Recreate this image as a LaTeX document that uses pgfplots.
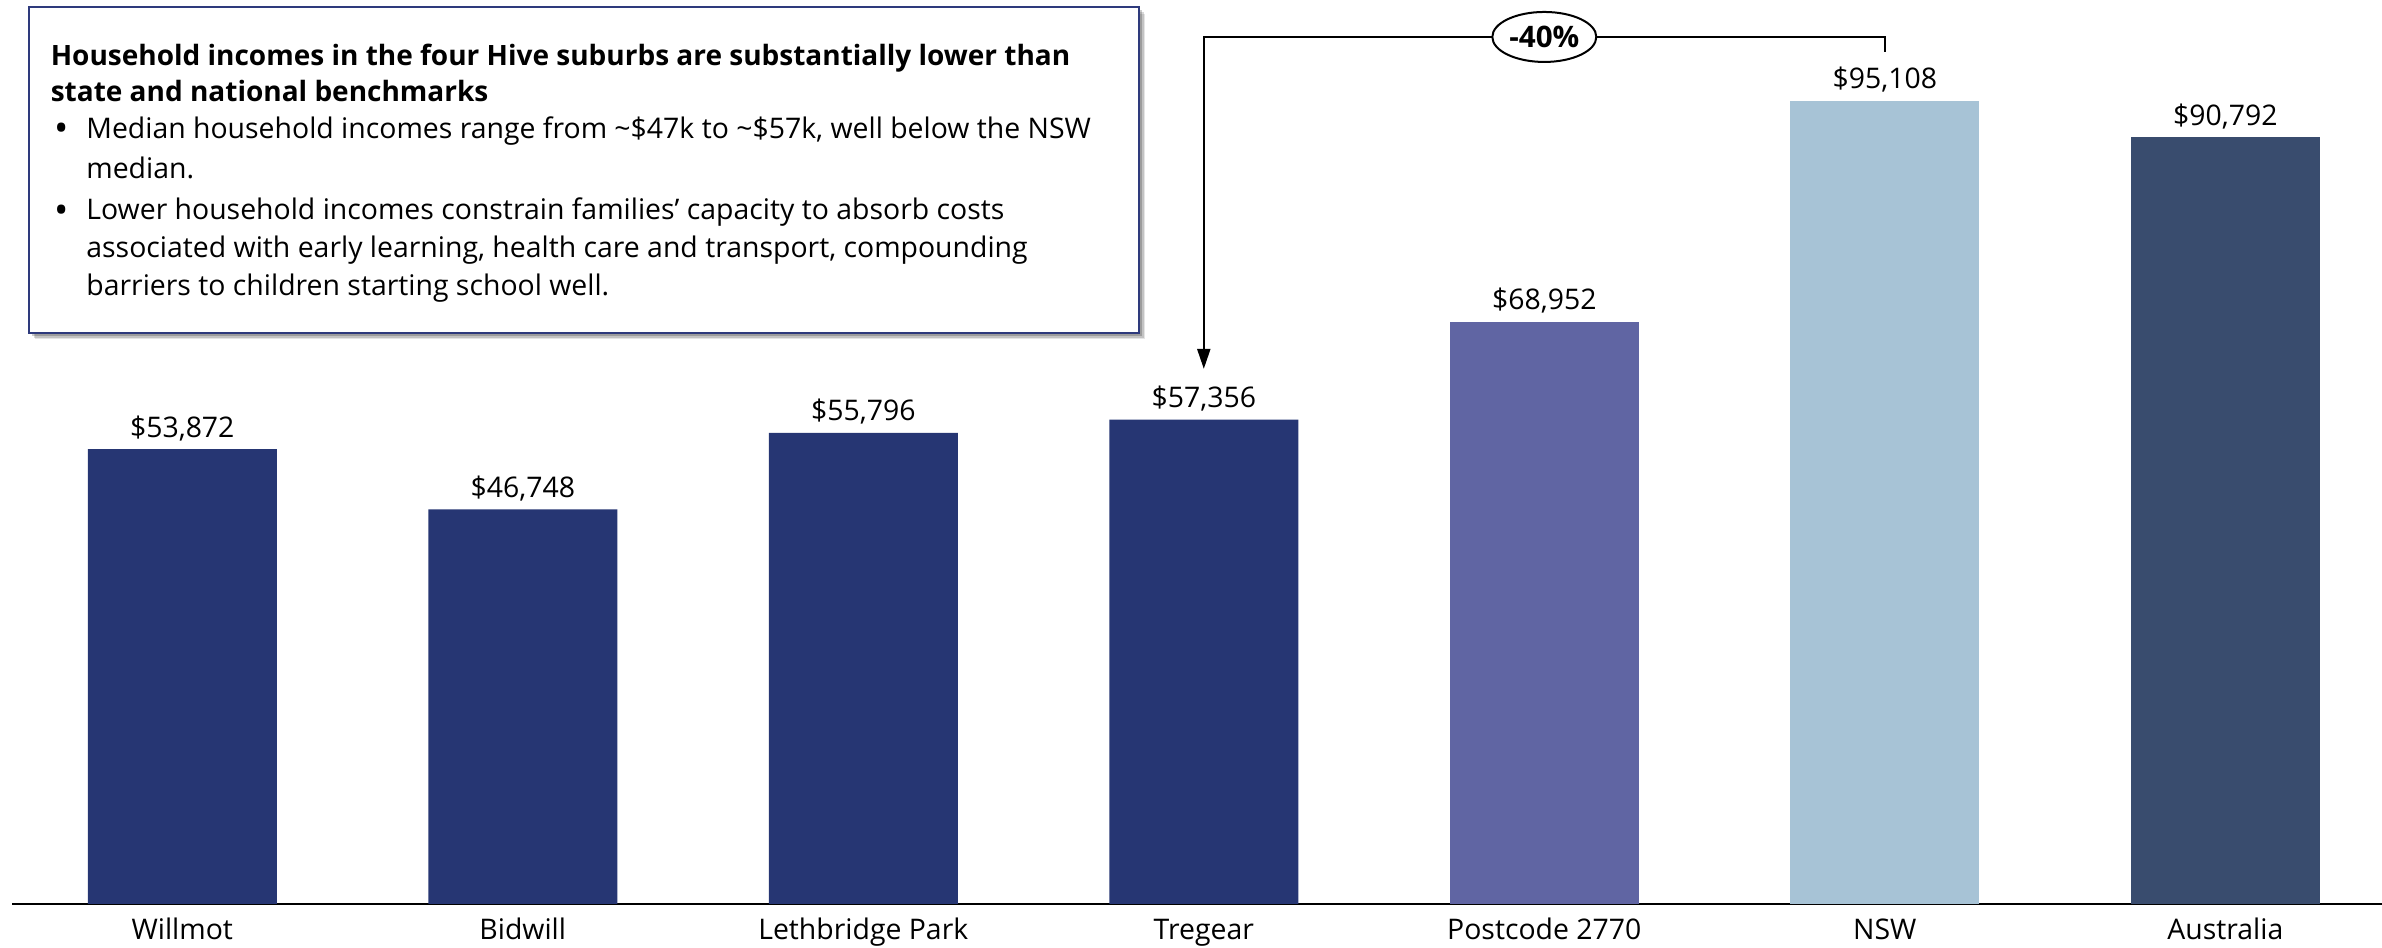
\documentclass[border=0pt]{standalone}
\usepackage{fontspec}
\setmainfont{Open Sans}
\usepackage{pgfplots}
\pgfplotsset{compat=1.18}
\usetikzlibrary{arrows.meta,shapes.geometric}

\definecolor{hive}{RGB}{38,54,115}
\definecolor{postcode}{RGB}{96,101,163}
\definecolor{nsw}{RGB}{167,195,214}
\definecolor{aus}{RGB}{57,76,110}
\definecolor{boxedge}{RGB}{46,58,124}

\newcommand{\labelfont}{\fontsize{7.1}{9}\selectfont}
\newcommand{\bodyfont}{\fontsize{7.1}{9}\selectfont}
\newcommand{\headfont}{\bfseries\fontsize{7.0}{9}\selectfont}
\newcommand{\bulletfont}{\fontsize{9.5}{9}\selectfont}

\begin{document}
\begin{tikzpicture}
\useasboundingbox (0,0) rectangle (595.5pt,237pt);

\begin{axis}[
  at={(3pt,11pt)}, anchor=south west,
  scale only axis, width=592.5pt, height=226pt,
  xmin=-0.5, xmax=6.46, ymin=0, ymax=107070,
  axis y line=none, axis x line*=bottom,
  x axis line style={line width=0.7pt, black},
  xtick={0,...,6},
  xticklabels={Willmot,Bidwill,Lethbridge Park,Tregear,Postcode 2770,NSW,Australia},
  major tick length=0pt,
  xticklabel style={anchor=base, yshift=-9pt, inner sep=0pt, font=\labelfont, text=black},
  ybar, bar width=47.25pt, bar shift=0pt,
  clip=false,
  nodes near coords={\$\pgfmathprintnumber{\pgfplotspointmeta}},
  every node near coord/.append style={anchor=base, yshift=3pt, inner sep=0pt, font=\labelfont, text=black},
  /pgf/number format/fixed,
  /pgf/number format/precision=0,
  /pgf/number format/1000 sep={,},
  /pgf/number format/assume math mode=true,
]
% the four Hive suburbs
\addplot[fill=hive, draw=none] coordinates {(0,53872) (1,46748) (2,55796) (3,57356)};
% comparison areas
\addplot[fill=postcode, draw=none] coordinates {(4,68952)};
\addplot[fill=nsw, draw=none] coordinates {(5,95108)};
\addplot[fill=aus, draw=none] coordinates {(6,90792)};

% gap bracket from NSW down to Tregear
\draw[line width=0.65pt, line join=miter, -{Triangle[length=5pt,width=3.2pt]}]
  (axis cs:5,100912) |- (axis cs:3,102690) -- (axis cs:3,63366);
\node[ellipse, draw, line width=0.5pt, fill=white, minimum width=26pt,
      minimum height=12.5pt, inner sep=0pt, font=\bfseries\fontsize{7.4}{9}\selectfont]
  at (axis cs:4,102690) {-40\%};
\end{axis}

% callout box with soft shadow
\foreach \o/\a in {1.6/0.10, 1.2/0.15, 0.8/0.20} {
  \fill[black, opacity=\a] (7.25pt+\o pt,153.75pt-\o pt) rectangle (284.75pt+\o pt,235.2pt-\o pt);
}
\fill[white] (7.25pt,153.75pt) rectangle (284.75pt,235.2pt);
\draw[boxedge, line width=0.6pt] (7.25pt,153.75pt) rectangle (284.75pt,235.2pt);

\node[anchor=base west, inner sep=0pt, font=\headfont] at (12.5pt,220.6pt)
  {Household incomes in the four Hive suburbs are substantially lower than};
\node[anchor=base west, inner sep=0pt, font=\headfont] at (12.5pt,211.6pt)
  {state and national benchmarks};

\node[anchor=base, inner sep=0pt, font=\bulletfont] at (15.4pt,201.5pt) {\textbullet};
\node[anchor=base west, inner sep=0pt, font=\bodyfont] at (21.4pt,202.4pt)
  {Median household incomes range from \textasciitilde\$47k to \textasciitilde\$57k, well below the NSW};
\node[anchor=base west, inner sep=0pt, font=\bodyfont] at (21.4pt,192.25pt)
  {median.};

\node[anchor=base, inner sep=0pt, font=\bulletfont] at (15.4pt,181.1pt) {\textbullet};
\node[anchor=base west, inner sep=0pt, font=\bodyfont] at (21.4pt,182pt)
  {Lower household incomes constrain families’ capacity to absorb costs};
\node[anchor=base west, inner sep=0pt, font=\bodyfont] at (21.4pt,172.5pt)
  {associated with early learning, health care and transport, compounding};
\node[anchor=base west, inner sep=0pt, font=\bodyfont] at (21.4pt,163pt)
  {barriers to children starting school well.};
\end{tikzpicture}
\end{document}
